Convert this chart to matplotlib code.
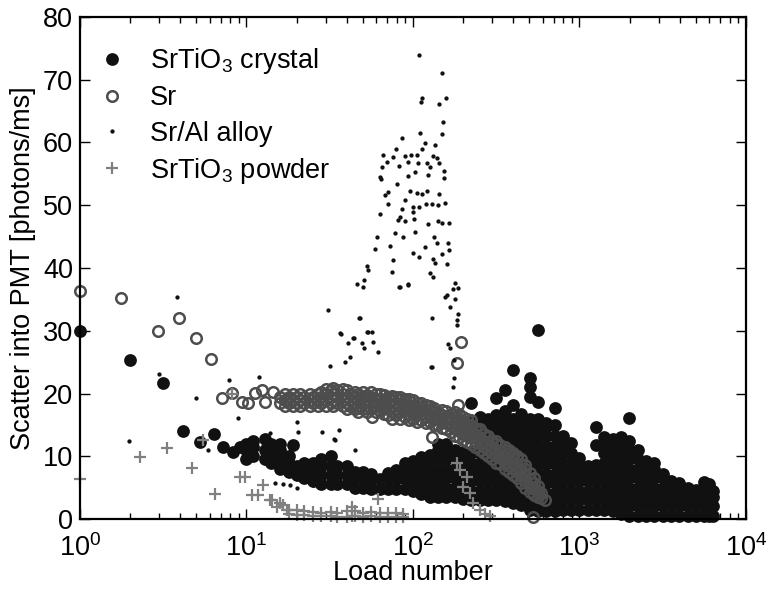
import matplotlib
matplotlib.use("Agg")
import matplotlib.pyplot as plt
from matplotlib.lines import Line2D

plt.rcParams["font.family"] = ["Liberation Sans", "DejaVu Sans"]
plt.rcParams["mathtext.fontset"] = "custom"
plt.rcParams["mathtext.rm"] = "Liberation Sans"
plt.rcParams["mathtext.it"] = "Liberation Sans"
plt.rcParams["mathtext.bf"] = "Liberation Sans"

# SrTiO3 crystal: isolated early loads, then columns (load, [scatter values])
crystal_sparse = [(1, 30), (2.0, 25.3), (3.15, 21.7), (4.16, 14.0), (5.25, 12.3),
                  (6.4, 13.5), (7.2, 11.5), (8.3, 10.7), (9.2, 11.5), (19, 11.8)]
crystal_cols = [
    (10, [9.5, 11, 12]), (11, [10, 11.5, 12.5]), (13, [9.5, 11, 12.8]),
    (14, [9, 10.5, 12]), (16, [8, 9.5, 11, 12]), (18, [7.5, 9, 10]),
    (20, [7, 8.5]), (22, [6.5, 8, 9]), (25, [6, 7.5, 9]),
    (28, [5.5, 7, 8.5, 9.5]), (32, [5.5, 7, 8.5, 10]), (35, [5.5, 7, 8.5]),
    (40, [5.5, 7, 8.5]), (45, [5, 6.5, 7.5]), (50, [5, 6.5, 7.5]),
    (56, [4.8, 6.2, 7.2]), (63, [4.8, 6.3]), (71, [4.8, 6.3, 7.4]),
    (79, [4.8, 6.3, 7.8]), (89, [4.8, 6.3, 7.8, 8.9]), (100, [4.5, 6, 7.5, 9.2]),
    (112, [4, 5.5, 7, 8.5, 9.9]), (126, [3.5, 5, 6.5, 8, 9.5, 10.2]),
    (141, [3.5, 5, 6.5, 8, 9.5, 11, 12]), (158, [3.5, 5, 6.5, 8, 9.5, 11, 12]),
    (178, [3.5, 5, 6.5, 8, 9.5, 11]),
    (200, [3.2, 4.7, 6.2, 7.7, 9.2, 10.7, 15]),
    (224, [3, 4.5, 6, 7.5, 9, 10.5, 15.5, 18.5]),
    (251, [3, 4.5, 6, 7.5, 9, 10.5, 12, 14.5, 16.3]),
    (282, [3, 4.5, 6, 7.5, 9, 10.5, 12, 13.5, 15, 16]),
    (316, [3, 4.5, 6, 7.5, 9, 10.5, 12, 13.5, 15, 16.5, 19.3]),
    (355, [2.8, 4.3, 5.8, 7.3, 8.8, 10.3, 11.8, 13.3, 14.8, 16, 17.2, 20.5]),
    (398, [2.5, 4, 5.5, 7, 8.5, 10, 11.5, 13, 14.5, 16, 18.2, 23.7]),
    (447, [2.3, 3.8, 5.3, 6.8, 8.3, 9.8, 11.3, 12.8, 14.3, 15.8, 16.8]),
    (501, [1.5, 3, 4.5, 6, 7.5, 9, 10.5, 12, 13.5, 15, 16, 19.5, 21, 22.5]),
    (562, [1.2, 2.7, 4.2, 5.7, 7.2, 8.7, 10.2, 11.7, 13.2, 14.7, 16, 18.7, 30.1]),
    (631, [1.2, 2.7, 4.2, 5.7, 7.2, 8.7, 10.2, 11.7, 13.2, 14.7, 15.3]),
    (708, [1.2, 2.7, 4.2, 5.7, 7.2, 8.7, 10.2, 11.7, 13.2, 15, 17.7]),
    (794, [1.5, 3, 4.5, 6, 7.5, 9, 10.5, 12, 13.2]),
    (891, [1.5, 3, 4.5, 6, 7.5, 9, 10.5, 12.1]),
    (1000, [1.5, 3, 4.5, 6, 7.5, 8.5, 9.7]),
    (1122, [1.5, 3, 4.5, 6, 7.5, 8.5]),
    (1259, [1.5, 3, 4.5, 6, 7.5, 8.6, 11.8, 14.7]),
    (1413, [1.5, 3, 4.5, 6, 7.5, 9, 10.5, 12, 13.1]),
    (1585, [1.2, 2.7, 4.2, 5.7, 7.2, 8.7, 10.2, 11.7, 12.8]),
    (1778, [0.8, 2.3, 3.8, 5.3, 6.8, 8.3, 9.8, 11.3, 13]),
    (1995, [0.5, 2, 3.5, 5, 6.5, 8, 9.5, 11, 12.5, 16.1]),
    (2239, [0.5, 2, 3.5, 5, 6.5, 8, 9.5, 11]),
    (2512, [0.5, 2, 3.5, 5, 6.5, 8, 9.3]),
    (2818, [0.5, 2, 3.5, 5, 6.5, 8, 8.9]),
    (3162, [0.5, 2, 3.5, 5, 6.5, 7.2]),
    (3548, [0.5, 2, 3.5, 5, 6]),
    (3981, [0.5, 2, 3.5, 5, 5.8]),
    (4467, [0.5, 2, 3.5, 5]),
    (5012, [0.5, 2, 3.5, 4.6]),
    (5623, [0.5, 2, 3.5, 5, 5.9]),
    (6000, [0.5, 2, 3.5, 5, 5.5]),
    (6300, [0.5, 2, 3.5, 4.5]),
]

# Sr metal
sr_sparse = [(1, 36.3), (1.76, 35.2), (2.94, 30), (3.93, 32), (4.97, 28.8),
             (6.13, 25.5), (7.1, 19.3), (8.2, 20.1), (9.4, 18.6), (10.2, 18.5),
             (11.2, 20.1), (12.4, 20.6), (12.9, 18.6), (14.4, 20.3), (17.5, 19),
             (46, 17.7), (57, 16.3), (130, 13.1), (184, 24.8), (194, 28.2),
             (186, 18.2), (525, 0.3)]
sr_cols = [
    (16, [18.5, 19.5]), (17, [18.0, 19.0, 20.0]), (18, [18.5, 19.5]),
    (19, [18.0, 19.0, 20.0]), (20, [18.5, 19.5]), (21, [18.0, 19.0, 20.0]),
    (22, [18.5, 19.5]), (24, [18.0, 19.0, 20.0]), (25, [18.5, 19.5]),
    (27, [18.0, 19.0, 20.0]), (28, [18.5, 19.5, 20.3]),
    (30, [18.0, 19.0, 20.0, 20.7]), (32, [18.5, 19.5, 20.5]),
    (33, [18.0, 19.0, 20.0, 20.8]), (35, [18.5, 19.5, 20.5]),
    (38, [18.0, 19.0, 20.0, 20.7]), (40, [17.5, 18.5, 19.5, 20.5]),
    (42, [18.0, 19.0, 20.0]), (45, [17.5, 18.5, 19.5, 20.3]),
    (47, [17.0, 18.0, 19.0, 20.0]), (50, [17.5, 18.5, 19.5, 20.2]),
    (53, [17.0, 18.0, 19.0, 19.8]), (56, [17.5, 18.5, 19.5, 20.2]),
    (60, [17.0, 18.0, 19.0, 20.0]), (63, [17.2, 18.2, 19.2, 20.0]),
    (67, [16.7, 17.7, 18.7, 19.7]), (71, [16.5, 17.5, 18.5, 19.5]),
    (75, [16.0, 17.0, 18.0, 19.0, 19.6]), (79, [16.5, 17.5, 18.5, 19.5]),
    (84, [16.0, 17.0, 18.0, 19.0, 19.4]), (89, [16.3, 17.3, 18.3, 19.2]),
    (94, [15.8, 16.8, 17.8, 18.8, 19.1]), (100, [16.0, 17.0, 18.0, 18.9]),
    (106, [15.5, 16.5, 17.5, 18.5]), (112, [15.8, 16.8, 17.8, 18.5]),
    (119, [15.3, 16.3, 17.3, 18.2]), (126, [15.5, 16.5, 17.5, 18.0]),
    (133, [15.0, 16.0, 17.0, 17.7]), (141, [15.0, 16.0, 17.0]),
    (150, [14.5, 15.5, 16.5, 17.3]), (158, [14.3, 15.3, 16.3, 17.2]),
    (168, [13.8, 14.8, 15.8, 16.8]), (178, [13.3, 14.3, 15.3, 16.3, 17.0]),
    (188, [13.0, 14.0, 15.0, 16.0, 16.7]), (200, [12.6, 13.6, 14.6, 15.6, 16.3]),
    (211, [12.2, 13.2, 14.2, 15.2, 16.0]), (224, [12.0, 13.0, 14.0, 15.0, 15.7]),
    (237, [11.5, 12.5, 13.5, 14.5]), (251, [11.0, 12.0, 13.0, 14.0, 14.3]),
    (266, [10.5, 11.5, 12.5, 13.5]), (282, [10.0, 11.0, 12.0, 13.0, 13.3]),
    (299, [9.5, 10.5, 11.5, 12.5]), (316, [9.0, 10.0, 11.0, 12.0, 12.5]),
    (335, [8.8, 9.8, 10.8, 11.8]), (355, [8.0, 9.0, 10.0, 11.0, 11.5]),
    (376, [7.5, 8.5, 9.5, 10.5, 11.0]), (398, [7.0, 8.0, 9.0, 10.0, 10.5]),
    (422, [6.5, 7.5, 8.5, 9.5, 10.0]), (447, [5.8, 6.8, 7.8, 8.8, 9.5]),
    (473, [5.0, 6.0, 7.0, 8.0, 8.6]), (501, [4.3, 5.3, 6.3, 7.3]),
    (531, [3.8, 4.8, 5.8, 6.5]), (562, [3.5, 4.5, 5.2]), (590, [3.3, 4.1]),
    (620, [3.0]),
]

# Sr/Al alloy
alloy_pts = [
    (1.97, 12.4), (2.98, 23.1), (3.83, 35.3), (4.97, 19.3), (5.9, 11),
    (7.85, 22.2), (8.9, 16.1), (11.9, 22.6), (12.9, 8.9), (13.8, 13.7),
    (14.8, 5.7), (16.5, 5.6), (18.2, 5.4), (20, 4.9), (21.5, 6.5), (25, 5.4),
    (20, 15.5), (20.5, 13.9), (28.5, 13.9), (31.7, 24.4), (30.9, 33.3),
    (33.5, 12.7), (34, 12.6), (36, 14.2), (44.8, 11), (36.5, 29.6), (37, 29.5),
    (39, 25), (40.5, 28), (41.7, 25.8), (43.6, 28.8), (44, 28.8), (47.5, 32),
    (48, 32), (49.5, 28), (50.5, 27.3), (52.7, 29.8), (54, 29.8), (56.8, 29.8),
    (57.6, 28.2), (61.6, 26.6), (82.6, 37), (93.5, 37.3), (130, 24.3),
    (128, 24.2), (71, 50.2), (89, 50.8), (100, 49.7), (108, 49.7), (120, 50.2),
    (130, 50.2), (141, 50), (156, 50.4), (63, 48.6), (86, 49.4), (100, 48.9),
    (84, 48.1), (81, 47.6), (89, 47.5), (101, 47.8), (123, 47), (141, 47.5),
    (149, 47.2), (164, 47.2), (78, 45.6), (87, 45), (61, 45), (103, 45.7),
    (134, 45), (162, 44), (139, 44), (59, 43), (73, 43.5), (118, 43.3),
    (100, 42.4), (108, 41.7), (149, 42.2), (164, 42.9), (76, 41.3), (132, 41.4),
    (135, 40.8), (160, 40.6), (53, 40.3), (54, 39.7), (75, 39.4), (126, 39.2),
    (132, 38.6), (51, 38.1), (46, 37.4), (50, 37), (83, 37), (93, 37.4),
    (178, 37.6), (174, 36.7), (186, 36.8), (160, 35.7), (156, 35.4), (178, 35),
    (166, 33.8), (186, 32.7), (183, 31.7), (183, 30.9), (130, 32), (163, 27.9),
    (166, 27.3), (176, 25.3), (176, 22.5), (173, 21),
    (108.5, 73.9), (149, 71.1), (113, 67.1), (112, 66.4), (143, 66.1),
    (158, 67.1), (151, 63.3), (149, 61.4), (110, 61.5), (86, 60.7), (79, 59),
    (118, 59.9), (135, 59.6), (114, 59), (66, 58), (76, 57.7), (89, 57.8),
    (97, 58), (105, 58), (132, 57.8), (139, 57.5), (65, 56.1), (70, 56.9),
    (82, 56.3), (93, 56.9), (107, 56.7), (121, 56.7), (127, 56.1), (143, 56.7),
    (154, 55.5), (63, 54.5), (64, 54.2), (93, 54.7), (103, 55.3), (123, 54.8),
    (154, 54.3), (80, 53.4), (71, 52.1), (68, 51.6), (96, 52.3), (105, 51.9),
    (113, 51.8), (121, 52.3), (143, 51.8),
]

# SrTiO3 powder
powder_sparse = [(1, 6.4), (2.3, 9.9), (3.33, 11.3), (4.7, 8.1), (5.5, 12.6),
                 (6.5, 4), (8.2, 20), (9.1, 6.7), (9.8, 6.7), (10.8, 3.8),
                 (11.8, 3.8), (12.6, 5.4), (13.8, 3), (14.2, 3), (15.2, 1.9),
                 (16, 2.5), (16.5, 2.2), (17.5, 1.4), (62, 3.2),
                 (191, 7.8), (183, 9), (200, 5.1), (210, 6.7), (220, 4.1),
                 (230, 2.5), (253, 1.4), (270, 0.8), (290, 0.4)]
powder_cols = [
    (18, [0.8, 1.5]), (20, [0.7, 1.4]), (22, [0.6, 1.2]), (25, [0.5, 1.1]),
    (28, [0.4, 1]), (32, [0.4, 1.1]), (35, [0.3, 1]), (40, [0.3, 1.2]),
    (43, [0.5, 1.9]), (45, [0.4, 1.3]), (50, [0.3, 1]), (56, [0.4, 1.1]),
    (63, [0.3, 1]), (71, [0.3, 1]), (79, [0.3, 0.9]), (87, [0.3, 0.8]),
]


def unpack(points, cols=()):
    xs = [p[0] for p in points]
    ys = [p[1] for p in points]
    for x, yl in cols:
        for y in yl:
            xs.append(x)
            ys.append(y)
    return xs, ys


crys_x, crys_y = unpack(crystal_sparse, crystal_cols)
sr_x, sr_y = unpack(sr_sparse, sr_cols)
al_x, al_y = unpack(alloy_pts)
pw_x, pw_y = unpack(powder_sparse, powder_cols)

crys_color = "#111111"
sr_color = "#4d4d4d"
pw_color = "#808080"
fs = 19.5

crys_style = dict(ls="none", marker="o", color=crys_color, ms=9.2, mew=0)
sr_style = dict(ls="none", marker="o", mfc="none", mec=sr_color, ms=7.6, mew=1.8)
al_style = dict(ls="none", marker="o", color=crys_color, ms=3.1, mew=0)
pw_style = dict(ls="none", marker="+", color=pw_color, ms=8, mew=1.6)

fig = plt.figure(figsize=(7.67, 5.92), dpi=100)
ax = fig.add_axes([0.1043, 0.1233, 0.8683, 0.848])

ax.plot(crys_x, crys_y, clip_on=False, **crys_style)
ax.plot(sr_x, sr_y, clip_on=False, **sr_style)
ax.plot(al_x, al_y, **al_style)
ax.plot(pw_x, pw_y, clip_on=False, **pw_style)

ax.set_xscale("log")
ax.set_xlim(1, 1e4)
ax.set_ylim(0, 80)
ax.set_yticks(range(0, 81, 10))

ax.tick_params(which="both", direction="in", top=True, right=True, labelsize=fs)
ax.tick_params(which="major", length=7, width=1)
ax.tick_params(which="minor", length=4, width=1)
ax.tick_params(axis="x", pad=11)
ax.tick_params(axis="y", pad=5)
for s in ax.spines.values():
    s.set_linewidth(1.6)

ax.set_xlabel("Load number", fontsize=fs)
ax.set_ylabel("Scatter into PMT [photons/ms]", fontsize=fs)
ax.xaxis.set_label_coords(0.5, -0.082)
ax.yaxis.set_label_coords(-0.066, 0.5)

handles = [Line2D([], [], **crys_style), Line2D([], [], **sr_style),
           Line2D([], [], **al_style), Line2D([], [], **pw_style)]
labels = [r"SrTiO$_3$ crystal", "Sr", "Sr/Al alloy", r"SrTiO$_3$ powder"]
ax.legend(handles, labels, loc="upper left", bbox_to_anchor=(0.0315, 0.942),
          frameon=False, fontsize=fs, handlelength=0.8, handletextpad=1.0,
          borderpad=0, borderaxespad=0, labelspacing=0.34)

fig.savefig("out.png", dpi=100)
